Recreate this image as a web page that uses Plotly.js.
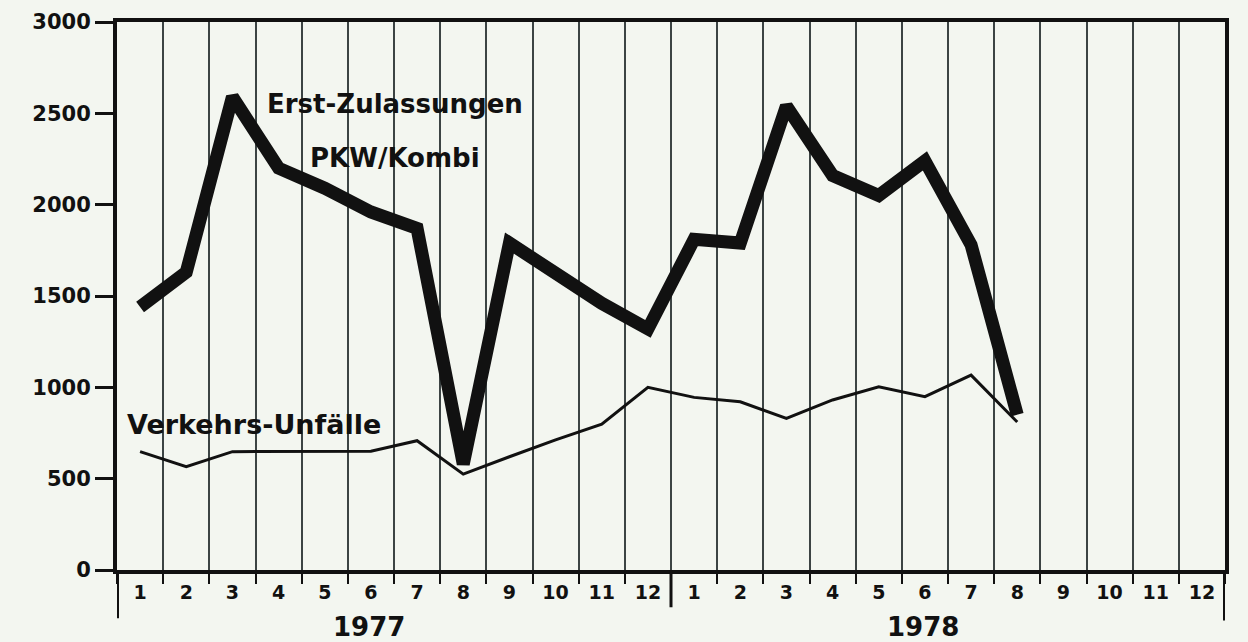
<!DOCTYPE html>
<html>
<head>
<meta charset="utf-8">
<script src="https://cdn.plot.ly/plotly-3.0.1.min.js"></script>
<style>
  html, body { margin: 0; padding: 0; background: #f3f6f0; }
  #chart { width: 1248px; height: 642px; }
</style>
</head>
<body>
<div id="chart"></div>
<script>
// ---- data ----
const monthLabels = ['1','2','3','4','5','6','7','8','9','10','11','12',
                     '1','2','3','4','5','6','7','8','9','10','11','12'];
const years = ['1977', '1978'];
// Erst-Zulassungen PKW/Kombi, monthly (Jan 1977 – Aug 1978)
const zulassungen = [1440, 1630, 2590, 2200, 2090, 1960, 1870, 580, 1790, 1620, 1460, 1320,
                     1810, 1790, 2540, 2160, 2050, 2240, 1780, 850];
// Verkehrs-Unfälle, monthly (Jan 1977 – Aug 1978)
const unfaelle = [648, 566, 648, 648, 648, 650, 708, 525, 620, 712, 798, 1000,
                  945, 921, 830, 931, 1003, 949, 1067, 810];
const seriesLabels = ['Erst-Zulassungen', 'PKW/Kombi', 'Verkehrs-Unfälle'];
const yTicks = [0, 500, 1000, 1500, 2000, 2500, 3000];

// month centres on a 0..24 scale
const xCenters = (arr) => arr.map((_, i) => i + 0.5);

const INK = '#111111';
const FONT = 'DejaVu Sans, Liberation Sans, sans-serif';

const traces = [
  {
    x: xCenters(unfaelle), y: unfaelle, type: 'scatter', mode: 'lines',
    name: 'Verkehrs-Unfälle',
    line: { color: INK, width: 3 }, showlegend: false
  },
  {
    x: xCenters(zulassungen), y: zulassungen, type: 'scatter', mode: 'lines',
    name: 'Erst-Zulassungen PKW/Kombi',
    line: { color: INK, width: 13 }, showlegend: false
  }
];

const layout = {
  width: 1248, height: 642,
  margin: { l: 117, r: 23, t: 22, b: 72 },
  paper_bgcolor: '#f3f6f0',
  plot_bgcolor: '#f3f6f0',
  showlegend: false,
  xaxis: {
    range: [0, 24],
    tickmode: 'array',
    tickvals: monthLabels.map((_, i) => i + 0.5),
    ticktext: monthLabels,
    ticks: '',
    showgrid: false, zeroline: false,
    showline: true, linecolor: INK, linewidth: 4, mirror: true,
    tickfont: { family: FONT, size: 19, color: INK, weight: 'bold' },
    ticklabelstandoff: 2,
    minor: {
      tickmode: 'linear', tick0: 0, dtick: 1,
      showgrid: true, gridcolor: '#3c4444', gridwidth: 2,
      ticks: 'outside', ticklen: 10, tickwidth: 2, tickcolor: INK
    }
  },
  yaxis: {
    range: [0, 3000],
    tickmode: 'array', tickvals: yTicks, ticktext: yTicks.map(String),
    ticks: 'outside', ticklen: 18, tickwidth: 3, tickcolor: INK,
    showgrid: false, zeroline: false,
    showline: true, linecolor: INK, linewidth: 4, mirror: true,
    tickfont: { family: FONT, size: 21, color: INK, weight: 'bold' }
  },
  shapes: [
    { type: 'line', xref: 'x', yref: 'paper', x0: 0, x1: 0, y0: 0, y1: -0.088,
      line: { color: INK, width: 4 } },
    { type: 'line', xref: 'x', yref: 'paper', x0: 24, x1: 24, y0: 0, y1: -0.092,
      line: { color: INK, width: 4 } },
    { type: 'line', xref: 'x', yref: 'paper', x0: 12, x1: 12, y0: 0, y1: -0.068,
      line: { color: INK, width: 3 } }
  ],
  annotations: [
    { x: 6.02, y: 2551, xref: 'x', yref: 'y', text: seriesLabels[0], showarrow: false,
      font: { family: FONT, size: 26, color: INK, weight: 'bold' } },
    { x: 6.02, y: 2255, xref: 'x', yref: 'y', text: seriesLabels[1], showarrow: false,
      font: { family: FONT, size: 26, color: INK, weight: 'bold' } },
    { x: 2.97, y: 794, xref: 'x', yref: 'y', text: seriesLabels[2], showarrow: false,
      font: { family: FONT, size: 27, color: INK, weight: 'bold' } },
    { x: 5.46, y: -0.104, xref: 'x', yref: 'paper', yanchor: 'middle', text: years[0], showarrow: false,
      font: { family: FONT, size: 26, color: INK, weight: 'bold' } },
    { x: 17.46, y: -0.104, xref: 'x', yref: 'paper', yanchor: 'middle', text: years[1], showarrow: false,
      font: { family: FONT, size: 26, color: INK, weight: 'bold' } }
  ]
};

Plotly.newPlot('chart', traces, layout, { staticPlot: true, displayModeBar: false });
</script>
</body>
</html>
